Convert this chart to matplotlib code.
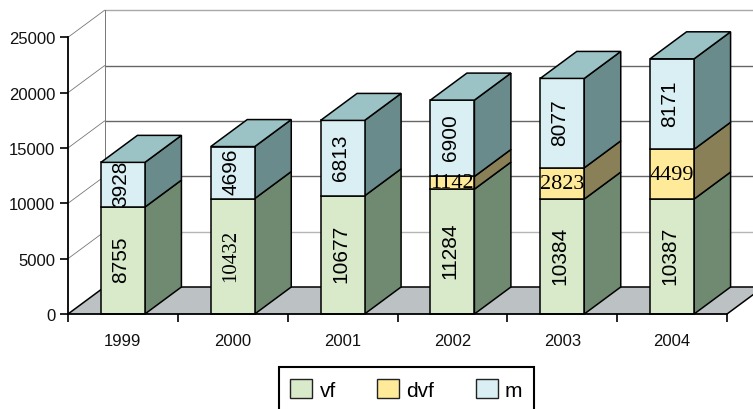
import matplotlib
matplotlib.use("Agg")
import matplotlib.pyplot as plt
from matplotlib.patches import Polygon, Patch

years = ["1999", "2000", "2001", "2002", "2003", "2004"]
# printed labels
vf_labels = [8755, 10432, 10677, 11284, 10384, 10387]
dvf_labels = [0, 0, 0, 1142, 2823, 4499]
m_labels = [3928, 4696, 6813, 6900, 8077, 8171]
# heights as drawn in the picture (the 1999 column is drawn taller than its labels)
vf_drawn = [9660, 10432, 10677, 11284, 10384, 10387]
dvf_drawn = [0, 0, 0, 1142, 2823, 4499]
m_drawn = [4040, 4696, 6813, 6900, 8077, 8171]

series_names = ["vf", "dvf", "m"]
front_colors = ["#D9EACB", "#FFEA99", "#DAEFF3"]
side_colors = ["#6F8A70", "#8A8058", "#6A8B8C"]
top_color = "#9BC2C4"
floor_color = "#BCC1C4"

W, H = 753, 410
fig = plt.figure(figsize=(W / 100, H / 100), dpi=100, facecolor="white")
ax = fig.add_axes([68 / W, 1 - 315 / H, 659 / W, 276.7 / H])
ax.set_xlim(0, 6)
ax.set_ylim(0, 25000)
ax.patch.set_visible(False)
DX = 36.5 / (659 / 6)            # depth offset in category units
DY = 27 / 276.7 * 25000          # depth offset in value units
BW = 44 / (659 / 6)
EDGE = dict(edgecolor="black", linewidth=1.1, joinstyle="miter", clip_on=False)

# floor
ax.add_patch(Polygon([(0, 0), (6, 0), (6 + DX, DY), (DX, DY)], closed=True,
                     facecolor=floor_color, edgecolor="none", clip_on=False, zorder=1))
ax.plot([0, DX, 6.4], [0, DY, DY], color="black", lw=1.1, clip_on=False, zorder=1.5)
ax.plot([6, 6 + DX], [0, DY], color="black", lw=1.1, clip_on=False, zorder=1.5)

# walls and gridlines
grid_vals = [5000, 10000, 15000, 20000, 25000]
grid_cols = ["#B5B5B5", "#666666", "#666666", "#666666", "#A8A8A8"]
for v, c in zip(grid_vals, grid_cols):
    ax.plot([DX, 6.4], [v + DY, v + DY], color=c, lw=1.0, clip_on=False, zorder=1)
    ax.plot([0, DX], [v, v + DY], color="#777777", lw=0.6, clip_on=False, zorder=1)
ax.plot([DX, DX], [DY, 25000 + DY], color="#777777", lw=0.7, clip_on=False, zorder=1)

# columns
for i in range(len(years)):
    x0, x1 = i + 0.5 - BW / 2, i + 0.5 + BW / 2
    base = 0
    heights = [vf_drawn[i], dvf_drawn[i], m_drawn[i]]
    for h, fc, sc in zip(heights, front_colors, side_colors):
        if h == 0:
            continue
        top = base + h
        ax.add_patch(Polygon([(x1, base), (x1 + DX, base + DY), (x1 + DX, top + DY), (x1, top)],
                             closed=True, facecolor=sc, zorder=3, **EDGE))
        ax.add_patch(Polygon([(x0, base), (x1, base), (x1, top), (x0, top)],
                             closed=True, facecolor=fc, zorder=3, **EDGE))
        base = top
    ax.add_patch(Polygon([(x0, base), (x1, base), (x1 + DX, base + DY), (x0 + DX, base + DY)],
                         closed=True, facecolor=top_color, zorder=3, **EDGE))

# data labels
SANS, SERIF = "Liberation Sans", "Liberation Serif"
serif_rot = {10432}
for i in range(len(years)):
    x = i + 0.5
    v = vf_labels[i]
    fam = SERIF if v in serif_rot else SANS
    ax.text(x - 0.02, vf_drawn[i] / 2 + 150, str(v), rotation=90, ha="center", va="center",
            family=fam, fontsize=15, color="black", zorder=5)
    if dvf_labels[i]:
        ax.text(x - 0.005, vf_drawn[i] + dvf_drawn[i] / 2, str(dvf_labels[i]), ha="center", va="center",
                family=SERIF, fontsize=16, color="black", zorder=5)
    ax.text(x - 0.02, vf_drawn[i] + dvf_drawn[i] + m_drawn[i] / 2 + 150, str(m_labels[i]), rotation=90,
            ha="center", va="center", family=SANS, fontsize=15, color="black", zorder=5)

# axes
for s in ("top", "right"):
    ax.spines[s].set_visible(False)
for s in ("left", "bottom"):
    ax.spines[s].set_linewidth(1.3)
    ax.spines[s].set_zorder(4)
ax.set_yticks(range(0, 25001, 5000))
ax.set_xticks(range(7))
ax.set_xticklabels([])
ax.set_xticks([i + 0.5 for i in range(6)], minor=True)
ax.set_xticklabels(years, minor=True, family=SANS, fontsize=12, color="#111111")
ax.tick_params(axis="x", which="minor", length=0, pad=14)
ax.tick_params(axis="x", which="major", length=6, width=1.2, direction="out")
ax.tick_params(axis="y", length=6, width=1.2, direction="out", pad=3)
for t in ax.get_yticklabels():
    t.set_family(SANS)
    t.set_fontsize(12)
    t.set_color("#111111")

# legend (box runs to the bottom edge of the picture)
handles = [Patch(facecolor=c, edgecolor="#222222", linewidth=1.0) for c in front_colors]
leg = fig.legend(handles, series_names, ncol=3, loc="lower left", mode="expand",
                 bbox_to_anchor=(279 / W, -2 / H, 255 / W, 43.3 / H), bbox_transform=fig.transFigure,
                 frameon=True, fancybox=False, edgecolor="black", framealpha=1,
                 prop={"family": SANS, "size": 15}, handlelength=1.05, handleheight=1.05,
                 handletextpad=0.35, borderaxespad=0, borderpad=0.55, labelspacing=0)
leg.get_frame().set_linewidth(1.5)

fig.savefig("out.png", dpi=100, facecolor="white")
